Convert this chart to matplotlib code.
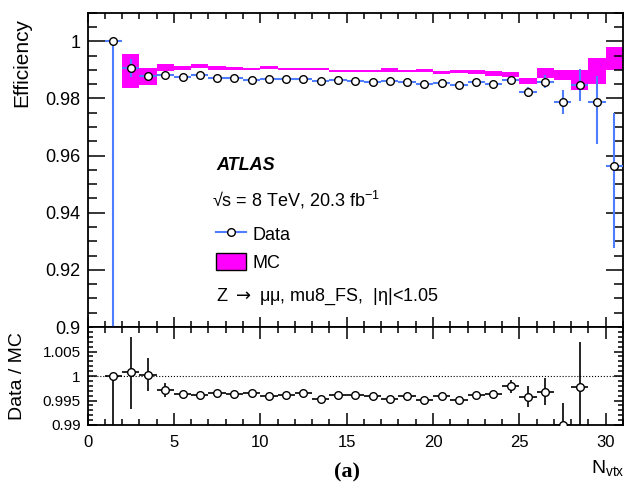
"""Trigger efficiency vs number of primary vertices, data vs MC with ratio panel."""

import matplotlib
matplotlib.use("Agg")
import matplotlib.pyplot as plt
import numpy as np
from matplotlib.lines import Line2D
from matplotlib.patches import Patch
from matplotlib.ticker import MultipleLocator, FixedLocator, FuncFormatter

plt.rcParams["font.family"] = ["Liberation Sans", "DejaVu Sans"]
plt.rcParams["mathtext.fontset"] = "custom"
plt.rcParams["mathtext.rm"] = "Liberation Sans"
plt.rcParams["mathtext.it"] = "Liberation Sans:italic"
plt.rcParams["mathtext.bf"] = "Liberation Sans:bold"

# bin centres in N_vtx
nvtx = np.arange(1, 31) + 0.5

data_eff = [1.0000, 0.9906, 0.9879, 0.9883, 0.9875, 0.9882, 0.9872, 0.9872, 0.9866, 0.9869,
            0.9868, 0.9867, 0.9860, 0.9864, 0.9860, 0.9859, 0.9860, 0.9859, 0.9852, 0.9854,
            0.9846, 0.9858, 0.9852, 0.9863, 0.9823, 0.9858, 0.9788, 0.9846, 0.9787, 0.9565]
data_err_lo = [0.12, 0.0031, 0.0012, 0.0006, 0.0006, 0.0006, 0.0006, 0.0006, 0.0006, 0.0006,
               0.0006, 0.0006, 0.0006, 0.0006, 0.0006, 0.0006, 0.0006, 0.0006, 0.0006, 0.0006,
               0.0006, 0.0006, 0.0006, 0.0010, 0.0017, 0.0023, 0.0042, 0.0056, 0.0145, 0.0288]
data_err_hi = [0.0, 0.0031, 0.0012, 0.0006, 0.0006, 0.0006, 0.0006, 0.0006, 0.0006, 0.0006,
               0.0006, 0.0006, 0.0006, 0.0006, 0.0006, 0.0006, 0.0006, 0.0006, 0.0006, 0.0006,
               0.0006, 0.0006, 0.0006, 0.0010, 0.0017, 0.0023, 0.0042, 0.0056, 0.0090, 0.0184]

mc_eff = [1.0000, 0.9895, 0.9878, 0.9909, 0.9906, 0.9914, 0.9906, 0.9904, 0.9902, 0.9907,
          0.9902, 0.9902, 0.9903, 0.9897, 0.9896, 0.9896, 0.9900, 0.9895, 0.9898, 0.9891,
          0.9894, 0.9893, 0.9887, 0.9883, 0.9861, 0.9890, 0.9882, 0.9865, 0.9897, 0.9939]
mc_err = [0.0002, 0.0059, 0.0030, 0.0013, 0.0008, 0.0008, 0.0006, 0.0005, 0.0004, 0.0005,
          0.0004, 0.0004, 0.0005, 0.0004, 0.0005, 0.0005, 0.0006, 0.0004, 0.0005, 0.0005,
          0.0005, 0.0006, 0.0008, 0.0008, 0.0012, 0.0017, 0.0019, 0.0036, 0.0045, 0.0041]

ratio = [1.0000, 1.0009, 1.0002, 0.9971, 0.9964, 0.9961, 0.9965, 0.9964, 0.9966, 0.9959,
         0.9961, 0.9966, 0.9954, 0.9961, 0.9961, 0.9959, 0.9954, 0.9959, 0.9951, 0.9959,
         0.9951, 0.9961, 0.9964, 0.9979, 0.9958, 0.9968, 0.9900, 0.9978, np.nan, np.nan]
ratio_err_lo = [0.015, 0.0077, 0.0033, 0.0014, 0.0005, 0.0005, 0.0005, 0.0005, 0.0005, 0.0005,
                0.0005, 0.0005, 0.0005, 0.0005, 0.0005, 0.0005, 0.0005, 0.0005, 0.0005, 0.0005,
                0.0005, 0.0005, 0.0005, 0.0013, 0.0022, 0.0027, 0.0050, 0.0090, 0.0, 0.0]
ratio_err_hi = [0.0, 0.0071, 0.0035, 0.0014, 0.0005, 0.0005, 0.0005, 0.0005, 0.0005, 0.0005,
                0.0005, 0.0005, 0.0005, 0.0005, 0.0005, 0.0005, 0.0005, 0.0005, 0.0005, 0.0005,
                0.0005, 0.0005, 0.0005, 0.0013, 0.0022, 0.0027, 0.0044, 0.0091, 0.0, 0.0]

BLUE = "#4f7dff"
MAGENTA = "#ff00ff"
W, H = 627, 493


def fx(px):
    return px / W


def fy(py):
    return 1 - py / H


fig = plt.figure(figsize=(W / 100, H / 100), dpi=100)
left, right = 87.5, 623
ax = fig.add_axes([fx(left), fy(327), fx(right) - fx(left), fy(12.7) - fy(327)])
rax = fig.add_axes([fx(left), fy(425), fx(right) - fx(left), fy(327) - fy(425)])

mc = np.array(mc_eff)
mce = np.array(mc_err)
ax.bar(nvtx, 2 * mce, bottom=mc - mce, width=1.0, color=MAGENTA, linewidth=0, zorder=1)
ax.errorbar(nvtx, data_eff, xerr=0.5, yerr=[data_err_lo, data_err_hi], fmt="o",
            color=BLUE, ecolor=BLUE, elinewidth=1.5, capsize=0, mfc="white", mec="black",
            ms=5.5, mew=1, zorder=3)

rax.axhline(1.0, color="black", ls=":", lw=0.8, zorder=1)
rax.errorbar(nvtx, ratio, xerr=0.5, yerr=[ratio_err_lo, ratio_err_hi], fmt="o",
             color="black", ecolor="black", elinewidth=1.2, capsize=0, mfc="white",
             mec="black", ms=5.5, mew=1, zorder=3)

fmt = FuncFormatter(lambda v, p: "%g" % round(v, 4))
for a in (ax, rax):
    a.set_xlim(0, 31)
    a.xaxis.set_major_locator(MultipleLocator(5))
    a.xaxis.set_minor_locator(MultipleLocator(1))
    a.tick_params(which="both", direction="in", top=True, right=True, width=1.1)
    a.yaxis.set_major_formatter(fmt)
    for s in a.spines.values():
        s.set_linewidth(1.3)

ax.set_ylim(0.9, 1.01)
ax.yaxis.set_major_locator(MultipleLocator(0.02))
ax.yaxis.set_minor_locator(MultipleLocator(0.005))
ax.tick_params(axis="y", which="major", length=12, labelsize=13, pad=5)
ax.tick_params(axis="y", which="minor", length=6.5)
ax.tick_params(axis="x", which="major", length=7)
ax.tick_params(axis="x", which="minor", length=4.3)
ax.tick_params(labelbottom=False)

rax.set_ylim(0.99, 1.01)
rax.yaxis.set_major_locator(FixedLocator([0.99, 0.995, 1.0, 1.005]))
rax.yaxis.set_minor_locator(MultipleLocator(0.001))
rax.tick_params(axis="y", which="major", length=6.5, labelsize=11, pad=5)
rax.tick_params(axis="y", which="minor", length=3.6)
rax.tick_params(axis="x", which="major", length=8.6, labelsize=12, pad=7)
rax.tick_params(axis="x", which="minor", length=4.3)

# labels
fig.text(fx(22), fy(18), "Efficiency", rotation=90, ha="center", va="top", fontsize=15)
fig.text(fx(18), fy(376), "Data / MC", rotation=90, ha="center", va="center", fontsize=14)
fig.text(fx(625), fy(468), r"N$_{\rm vtx}$", ha="right", va="center", fontsize=14)
fig.text(fx(347), fy(472), "(a)", ha="center", va="center", fontsize=16,
         family="Liberation Serif", weight="bold")

fig.text(fx(216), fy(166), "ATLAS", fontsize=13, weight="bold", style="italic", va="center")
fig.text(fx(212), fy(200), "\u221as = 8 TeV, 20.3 fb$^{\\mathrm{-1}}$", fontsize=13, va="center")
fig.text(fx(216), fy(297), "Z $\\rightarrow$ \u03bc\u03bc, mu8_FS,  |\u03b7|<1.05", fontsize=13,
         va="center", math_fontfamily="dejavusans")

handles = [Line2D([], [], color=BLUE, lw=1.5, marker="o", mfc="white", mec="black", ms=5.5, mew=1),
           Patch(facecolor=MAGENTA, edgecolor="black", linewidth=1)]
ax.legend(handles, ["Data", "MC"], loc="upper left", bbox_to_anchor=(fx(216), fy(225)),
          bbox_transform=fig.transFigure, frameon=False, fontsize=13, handlelength=1.66,
          handleheight=1.1, handletextpad=0.35, labelspacing=0.5, borderpad=0,
          borderaxespad=0)

fig.savefig("out.png", dpi=100)
plt.close(fig)
